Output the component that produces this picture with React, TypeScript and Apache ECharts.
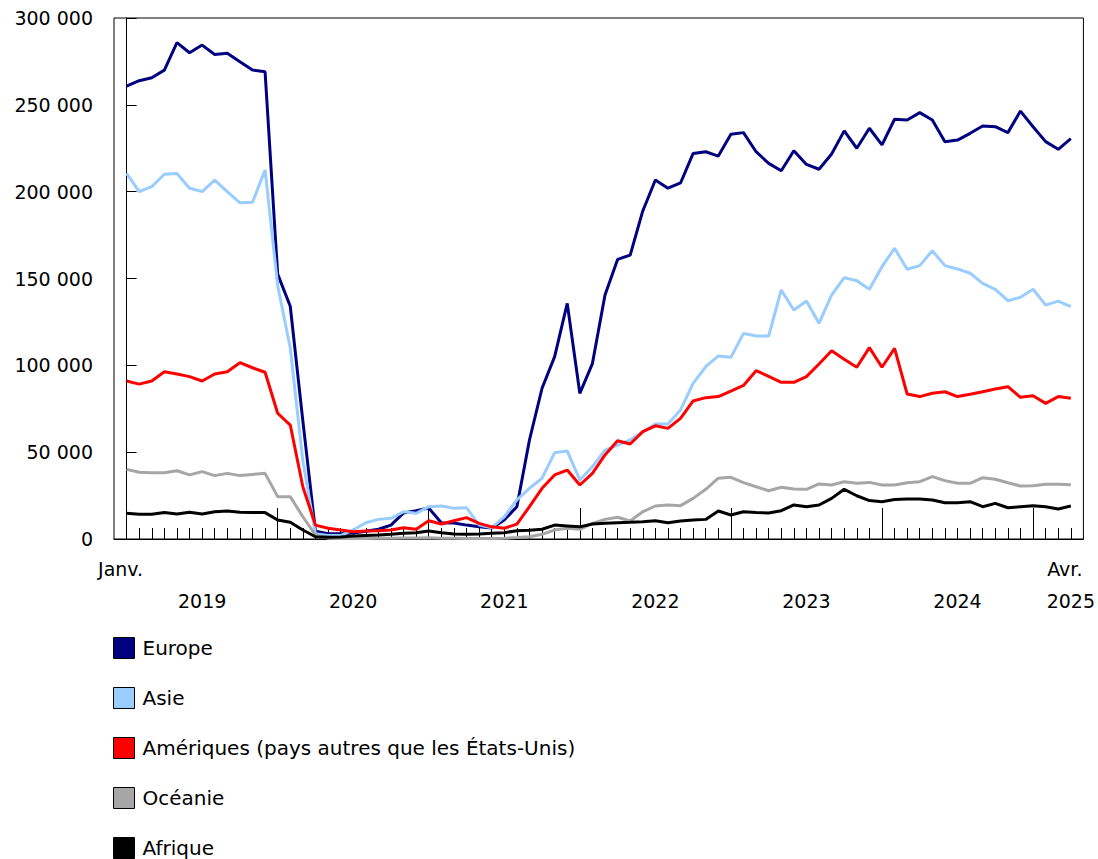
import React, { useEffect, useRef } from "react";
import * as echarts from "echarts";

// Monthly values, January 2019 to April 2025 (76 months)
const europe = [
  260800, 263900, 265600, 270000, 285800, 280000, 284400, 279000, 279700, 274800, 270000, 269000,
  152500, 134000, 68000, 4500, 3000, 3000, 3500, 4500, 5600, 8000, 15000, 16300,
  17800, 9400, 9200, 8000, 7000, 6300, 11000, 18600, 57000, 86800, 105000, 135700,
  83900, 101000, 140500, 161000, 163500, 188900, 206700, 202000, 205000, 222000, 223000, 220500,
  233000, 234000, 223000, 216300, 212000, 223600, 215700, 212900, 221700, 235000, 225000, 236500,
  226900, 241700, 241300, 245500, 241300, 228800, 229700, 233600, 237800, 237400, 234000, 246400,
  237400, 228800, 224400, 230500,
];
const asie = [
  210500, 200000, 202900, 210000, 210500, 202000, 200000, 206700, 200000, 193600, 193900, 212500,
  146000, 110000, 45000, 3000, 2000, 2000, 5200, 9400, 11300, 11900, 15700, 14800,
  18600, 19000, 17700, 18000, 8000, 6500, 12800, 22500, 29200, 35000, 49700, 50700,
  34000, 41600, 51200, 54000, 57000, 61800, 66200, 66200, 74300, 89600, 99200, 105400,
  104600, 118400, 116900, 116900, 143400, 131900, 137000, 124200, 140500, 150500, 148700, 143800,
  156800, 167400, 155300, 157400, 166000, 157400, 155500, 153000, 147200, 143800, 137200, 139200,
  143800, 134700, 137000, 133800,
];
const ameriques = [
  91000, 89200, 91000, 96300, 95000, 93500, 91000, 95000, 96300, 101500, 98600, 96000,
  72400, 65600, 30100, 8000, 6200, 5200, 4200, 4600, 4800, 5200, 6500, 5600,
  10500, 8600, 10500, 12300, 9000, 7000, 6200, 8600, 18600, 29200, 36900, 39700,
  31100, 37800, 48400, 56600, 54700, 61800, 65200, 63700, 69500, 79500, 81400, 82000,
  85200, 88400, 96900, 93700, 90200, 90200, 93500, 100800, 108400, 103500, 98900, 110200,
  98900, 109800, 83500, 82000, 83900, 84800, 82000, 83300, 84800, 86400, 87700, 81600,
  82500, 78100, 82000, 81000,
];
const oceanie = [
  40100, 38400, 38200, 38200, 39300, 36900, 38800, 36500, 37800, 36500, 37200, 37800,
  24400, 24400, 12800, 2300, 500, 300, 300, 300, 400, 500, 600, 600,
  700, 500, 400, 300, 300, 300, 500, 800, 1300, 2700, 5200, 6200,
  5600, 9000, 11300, 12500, 10400, 15700, 19000, 19600, 19200, 23400, 28600, 35000,
  35500, 32500, 30100, 27800, 29800, 28800, 28600, 31700, 31100, 33000, 32100, 32600,
  31100, 31100, 32400, 33000, 35900, 33600, 32100, 32100, 35300, 34400, 32400, 30500,
  30700, 31500, 31500, 31300,
];
const afrique = [
  14800, 14200, 14200, 15200, 14400, 15400, 14400, 15700, 16100, 15400, 15200, 15200,
  10900, 9600, 5200, 1300, 1000, 1200, 1700, 2000, 2300, 2700, 3300, 3600,
  4600, 3600, 2900, 2700, 2900, 3300, 3600, 4800, 5000, 5600, 8000, 7500,
  7000, 8600, 9000, 9400, 9600, 10000, 10500, 9400, 10400, 10900, 11300, 16100,
  13800, 15700, 15300, 15000, 16300, 19600, 18600, 19600, 23400, 28600, 24900, 22100,
  21500, 22800, 23000, 23000, 22500, 20900, 20900, 21500, 18600, 20500, 18000, 18600,
  19200, 18600, 17300, 19000,
];

const seriesNames = [
  "Europe",
  "Asie",
  "Amériques (pays autres que les États-Unis)",
  "Océanie",
  "Afrique",
];
const seriesColors = ["#000080", "#99ccff", "#ff0000", "#a6a6a6", "#000000"];
const seriesValues = [europe, asie, ameriques, oceanie, afrique];

// x-axis labels (month index -> text)
const monthLabelPos = [0, 75];
const monthLabelText = ["Janv.", "Avr."];
const yearTickPos = [0, 12, 24, 36, 48, 60, 72];
const yearLabelPos = [6, 18, 30, 42, 54, 66, 75];
const yearLabelText = ["2019", "2020", "2021", "2022", "2023", "2024", "2025"];

const FONT = 'Verdana, "DejaVu Sans", sans-serif';

export default function App() {
  const ref = useRef<HTMLDivElement>(null);
  useEffect(() => {
    if (!ref.current) return;
    const chart = echarts.init(ref.current, undefined, { renderer: "svg" });
    const monthTicks = europe.map((_, i) => i);
    const fmt = (v: number) => String(v).replace(/\B(?=(\d{3})+(?!\d))/g, " ");
    chart.setOption({
      animation: false,
      backgroundColor: "#ffffff",
      textStyle: { fontFamily: FONT },
      grid: {
        left: 114,
        top: 18,
        width: 971,
        height: 521,
        show: true,
        borderColor: "#000",
        borderWidth: 1,
        backgroundColor: "transparent",
      },
      legend: {
        orient: "vertical",
        left: 113,
        top: 637,
        padding: 0,
        itemWidth: 21,
        itemHeight: 21,
        itemGap: 28,
        icon: "rect",
        itemStyle: { borderColor: "#000", borderWidth: 1 },
        textStyle: {
          fontSize: 20,
          lineHeight: 22,
          color: "#000",
          fontFamily: FONT,
          padding: [0, 0, 0, 3],
        },
        data: seriesNames,
      },
      xAxis: [
        {
          type: "value",
          min: -1,
          max: 76,
          position: "bottom",
          axisLine: { show: true, onZero: false, lineStyle: { color: "#000", width: 1 } },
          axisTick: {
            show: true,
            inside: true,
            length: 11,
            customValues: monthTicks,
            lineStyle: { color: "#000", width: 1 },
          },
          axisLabel: {
            customValues: monthLabelPos,
            formatter: (v: number) => monthLabelText[monthLabelPos.indexOf(v)] ?? "",
            fontSize: 19,
            color: "#000",
            fontFamily: FONT,
            margin: 20,
            padding: [0, 12, 0, 0],
          },
          splitLine: { show: false },
        },
        {
          type: "value",
          min: -1,
          max: 76,
          position: "bottom",
          axisLine: { show: false, onZero: false },
          axisTick: {
            show: true,
            inside: true,
            length: 31,
            customValues: yearTickPos,
            lineStyle: { color: "#000", width: 1 },
          },
          axisLabel: {
            customValues: yearLabelPos,
            formatter: (v: number) => yearLabelText[yearLabelPos.indexOf(v)] ?? "",
            fontSize: 19,
            color: "#000",
            fontFamily: FONT,
            margin: 52,
          },
          splitLine: { show: false },
        },
      ],
      yAxis: {
        type: "value",
        min: 0,
        max: 300000,
        interval: 50000,
        axisLine: { show: true, lineStyle: { color: "#000", width: 1 } },
        axisTick: { show: true, inside: true, length: 10, lineStyle: { color: "#000", width: 1 } },
        axisLabel: {
          formatter: fmt,
          fontSize: 19,
          color: "#000",
          fontFamily: FONT,
          margin: 21,
          padding: [4, 0, 0, 0],
        },
        splitLine: { show: false },
      },
      series: seriesNames.map((name, k) => ({
        name,
        type: "line",
        xAxisIndex: 0,
        color: seriesColors[k],
        data: seriesValues[k].map((v, i) => [i, v]),
        showSymbol: false,
        symbol: "none",
        lineStyle: { width: 3, color: seriesColors[k] },
        itemStyle: { color: seriesColors[k] },
      })),
    });
    return () => chart.dispose();
  }, []);
  return (
    <div
      style={{
        position: "absolute",
        left: 0,
        top: 0,
        width: 1098,
        height: 859,
        overflow: "hidden",
      }}
    >
      <div ref={ref} style={{ width: 1098, height: 940 }} />
    </div>
  );
}
